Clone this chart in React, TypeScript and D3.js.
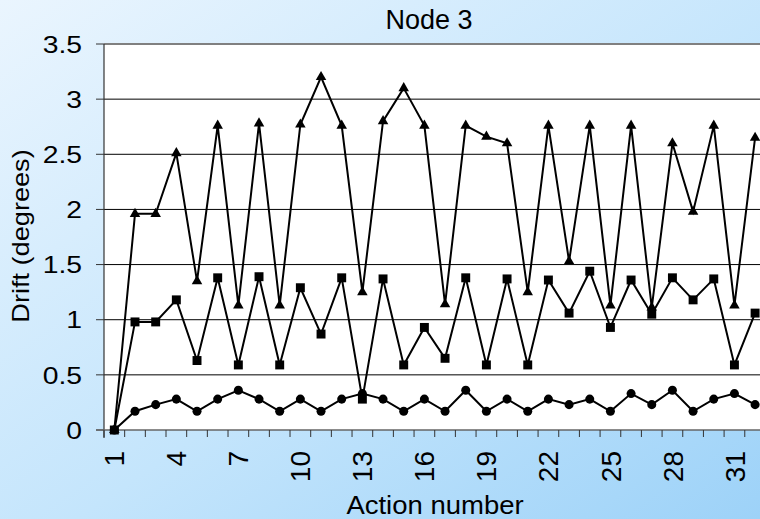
import React from 'react';
import * as d3 from 'd3';

const actions = d3.range(1, 33);
const tickLabels = [1, 4, 7, 10, 13, 16, 19, 22, 25, 28, 31];
const yTicks = [0, 0.5, 1, 1.5, 2, 2.5, 3, 3.5];

const triangleSeries = [0, 1.96, 1.96, 2.51, 1.35, 2.76, 1.13, 2.78, 1.13, 2.77, 3.2, 2.76, 1.25, 2.8, 3.1, 2.76,
  1.14, 2.76, 2.66, 2.6, 1.25, 2.76, 1.53, 2.76, 1.13, 2.76, 1.11, 2.6, 1.98, 2.76, 1.13, 2.65];
const squareSeries = [0, 0.98, 0.98, 1.18, 0.63, 1.38, 0.59, 1.39, 0.59, 1.29, 0.87, 1.38, 0.28, 1.37, 0.59, 0.93,
  0.65, 1.38, 0.59, 1.37, 0.59, 1.36, 1.06, 1.44, 0.93, 1.36, 1.05, 1.38, 1.18, 1.37, 0.59, 1.06];
const circleSeries = [0, 0.17, 0.23, 0.28, 0.17, 0.28, 0.36, 0.28, 0.17, 0.28, 0.17, 0.28, 0.33, 0.28, 0.17, 0.28,
  0.17, 0.36, 0.17, 0.28, 0.17, 0.28, 0.23, 0.28, 0.17, 0.33, 0.23, 0.36, 0.17, 0.28, 0.33, 0.23];

const W = 760;
const H = 519;
const left = 104;
const top = 44;
const bottom = 430;
const step = 20.67;

const font = "Arial, 'Liberation Sans', sans-serif";

export default function App() {
  const x = d3.scaleBand<number>().domain(actions).range([left, left + step * actions.length]).padding(0);
  const y = d3.scaleLinear().domain([0, 3.5]).range([bottom, top]);
  const cx = (a: number) => (x(a) as number) + x.bandwidth() / 2;

  const line = d3.line<number>().x((_, i) => cx(actions[i])).y(d => y(d));
  const tri = d3.symbol().type(d3.symbolTriangle).size(48)();
  const sq = d3.symbol().type(d3.symbolSquare).size(80)();
  const circ = d3.symbol().type(d3.symbolCircle).size(64)();

  const series = [
    { data: circleSeries, path: circ },
    { data: squareSeries, path: sq },
    { data: triangleSeries, path: tri },
  ];

  return (
    <svg width={W} height={H} style={{ position: 'absolute', left: 0, top: 0 }}>
      <defs>
        <linearGradient id="bg" x1="0" y1="0" x2="1" y2="1">
          <stop offset="0%" stopColor="#eaf5fe" />
          <stop offset="55%" stopColor="#c4e5fc" />
          <stop offset="100%" stopColor="#9dd2f8" />
        </linearGradient>
      </defs>
      <rect x={0} y={0} width={W} height={H} fill="url(#bg)" />
      <rect x={left} y={top} width={W - left + 10} height={bottom - top} fill="#ffffff" />

      {yTicks.map(t => (
        <g key={t}>
          {t > 0 && t < 3.5 && (
            <line x1={left} x2={W} y1={y(t)} y2={y(t)} stroke="#000" strokeWidth={1} />
          )}
          <line x1={left - 8} x2={left} y1={y(t)} y2={y(t)} stroke="#333" strokeWidth={1} />
          <text transform={`translate(82,${y(t)}) scale(1.18,1)`} dy="0.36em" textAnchor="end"
            fontFamily={font} fontSize={24} fill="#000">
            {t}
          </text>
        </g>
      ))}
      <line x1={left} x2={W} y1={top} y2={top} stroke="#808080" strokeWidth={2} />
      <line x1={left} x2={left} y1={top} y2={bottom + 8} stroke="#333" strokeWidth={1.2} />
      <line x1={left - 8} x2={W} y1={bottom} y2={bottom} stroke="#666" strokeWidth={1.5} />

      {actions.map(a => (
        <line key={a} x1={x(a) as number} x2={x(a) as number} y1={bottom} y2={bottom + 7} stroke="#333" strokeWidth={1} />
      ))}
      {tickLabels.map(a => (
        <text key={a} transform={`translate(${cx(a)},451) rotate(-90)`} dy="0.36em" textAnchor="end"
          fontFamily={font} fontSize={28} fill="#000">
          {a}
        </text>
      ))}

      {series.map((s, i) => (
        <g key={i}>
          <path d={line(s.data) as string} fill="none" stroke="#000" strokeWidth={2} />
          {s.data.map((v, j) => (
            <path key={j} d={s.path as string} transform={`translate(${cx(actions[j])},${y(v)})`} fill="#000" />
          ))}
        </g>
      ))}

      <text x={429} y={29} textAnchor="middle" fontFamily={font} fontSize={27} fill="#000">Node 3</text>
      <text transform="translate(435,514) scale(1.1,1)" textAnchor="middle" fontFamily={font} fontSize={25} fill="#000">
        Action number
      </text>
      <text transform="translate(29,236) rotate(-90) scale(1.18,1)" textAnchor="middle" fontFamily={font} fontSize={23} fill="#000">
        Drift (degrees)
      </text>
    </svg>
  );
}
